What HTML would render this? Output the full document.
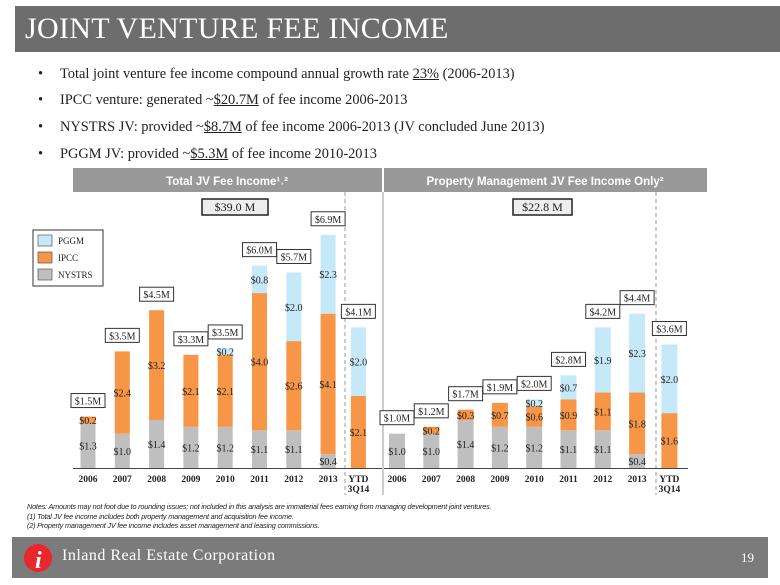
<!DOCTYPE html>
<html><head><meta charset="utf-8"><style>
body{margin:0;width:780px;height:585px;background:#fff;position:relative;overflow:hidden;font-family:"Liberation Serif",serif}
.abs{position:absolute}
#title{left:15px;top:6px;width:765px;height:46px;background:#6d6d6d;color:#fff;font-size:30px;line-height:46px;padding-left:10px;box-sizing:border-box;letter-spacing:0.3px}
.bul{left:38px;font-size:14.4px;color:#222;white-space:nowrap}
.bul span.d{display:inline-block;width:22px}
u{text-decoration:underline}
#notes{left:27px;top:502px;font-family:"Liberation Sans",sans-serif;font-style:italic;font-size:7.3px;line-height:9.5px;color:#222;letter-spacing:-0.2px}
#footer{left:12px;top:537px;width:756px;height:41px;background:#7b7b7b}
</style></head><body>
<div id="title" class="abs">JOINT VENTURE FEE INCOME</div>
<div class="abs bul" style="top:66px"><span class="d">•</span>Total joint venture fee income compound annual growth rate <u>23%</u> (2006-2013)</div>
<div class="abs bul" style="top:92px"><span class="d">•</span>IPCC venture: generated ~<u>$20.7M</u> of fee income 2006-2013</div>
<div class="abs bul" style="top:119px"><span class="d">•</span>NYSTRS JV: provided ~<u>$8.7M</u> of fee income 2006-2013 (JV concluded June 2013)</div>
<div class="abs bul" style="top:146px"><span class="d">•</span>PGGM JV: provided ~<u>$5.3M</u> of fee income 2010-2013</div>
<svg class="abs" style="left:0;top:0" width="780" height="585" id="chart"></svg>
<div id="notes" class="abs">Notes: Amounts may not foot due to rounding issues; not included in this analysis are immaterial fees earning from managing development joint ventures.<br>(1) Total JV fee income includes both property management and acquisition fee income.<br>(2) Property management JV fee income includes asset management and leasing commissions.</div>
<div id="footer" class="abs">
<svg class="abs" style="left:10px;top:4px" width="32" height="34"><circle cx="16" cy="17" r="14" fill="#e8262b"/><text x="13" y="27" font-size="24" font-style="italic" font-weight="bold" fill="#fff" font-family="Liberation Serif">i</text></svg>
<div class="abs" style="left:50px;top:10px;color:#fff;font-size:16px;letter-spacing:0.5px">Inland Real Estate Corporation</div>
<div class="abs" style="right:14px;top:13px;color:#fff;font-size:13px">19</div>
</div>
<script>
const categories=["2006","2007","2008","2009","2010","2011","2012","2013","YTD 3Q14"];
const leftNystrs=[1.3,1.0,1.4,1.2,1.2,1.1,1.1,0.4,0];
const leftIpcc=[0.2,2.4,3.2,2.1,2.1,4.0,2.6,4.1,2.1];
const leftPggm=[0,0,0,0,0.2,0.8,2.0,2.3,2.0];
const leftTotals=["$1.5M","$3.5M","$4.5M","$3.3M","$3.5M","$6.0M","$5.7M","$6.9M","$4.1M"];
const rightNystrs=[1.0,1.0,1.4,1.2,1.2,1.1,1.1,0.4,0];
const rightIpcc=[0,0.2,0.3,0.7,0.6,0.9,1.1,1.8,1.6];
const rightPggm=[0,0,0,0,0.2,0.7,1.9,2.3,2.0];
const rightTotals=["$1.0M","$1.2M","$1.7M","$1.9M","$2.0M","$2.8M","$4.2M","$4.4M","$3.6M"];
const svg=document.getElementById('chart');const NS='http://www.w3.org/2000/svg';
function mk(t,a,p){const e=document.createElementNS(NS,t);for(const k in a)e.setAttribute(k,a[k]);(p||svg).appendChild(e);return e;}
const base=468,scale=34.3;
const y=v=>base-v*scale;
const colors=["#bfbfbf","#f79646","#c6e9fa"];
function xL(i){return 88+i*34.3-(i==8?4:0)}
function xR(i){return 397+i*34.3-(i==8?2:0)}
function drawChart(name,xf,ser,totals,bw){
  for(let i=0;i<categories.length;i++){
    let acc=0;const cx=xf(i);
    ser.forEach((s,k)=>{
      const v=s[i];if(v<=0)return;
      const r=mk('rect',{x:cx-bw/2,y:y(acc+v),width:bw,height:v*scale,fill:colors[k]});
      
      
      const t=mk('text',{x:cx,y:y(acc+v/2)+4,'font-size':10,'text-anchor':'middle',fill:'#222','font-family':'Liberation Serif'});
      t.textContent='$'+v.toFixed(1);
      
      
      acc+=v;
    });
    const bt=y(acc)-9;
    const g=mk('g',{});
    
    
    mk('rect',{x:cx-17,y:bt-14,width:34,height:14,fill:'#fff',stroke:'#333','stroke-width':1},g);
    const t=mk('text',{x:cx,y:bt-3,'font-size':10,'text-anchor':'middle',fill:'#222','font-family':'Liberation Serif'},g);
    t.textContent=totals[i];
    const lab=categories[i].split(' ');
    lab.forEach((l,j)=>{const tx=mk('text',{x:cx,y:482+j*10,'font-size':9.5,'font-weight':'bold','text-anchor':'middle',fill:'#222','font-family':'Liberation Serif'});tx.textContent=l;
      
      });
  }
}
mk('rect',{x:73,y:168,width:309,height:24,fill:'#999'});
let h=mk('text',{x:227,y:185,'font-size':11.5,'font-weight':'bold','text-anchor':'middle',fill:'#fff','font-family':'Liberation Sans'});h.textContent='Total JV Fee Income¹˒²';

mk('rect',{x:384,y:168,width:323,height:24,fill:'#999'});
h=mk('text',{x:545,y:185,'font-size':11.5,'font-weight':'bold','text-anchor':'middle',fill:'#fff','font-family':'Liberation Sans'});h.textContent='Property Management JV Fee Income Only²';

mk('line',{x1:383,y1:192,x2:383,y2:495,stroke:'#999','stroke-width':1});
mk('line',{x1:345,y1:192,x2:345,y2:495,stroke:'#999','stroke-dasharray':'4,3'});
mk('line',{x1:656,y1:192,x2:656,y2:495,stroke:'#999','stroke-dasharray':'4,3'});
mk('line',{x1:73,y1:468.5,x2:382,y2:468.5,stroke:'#444'});
mk('line',{x1:384,y1:468.5,x2:688,y2:468.5,stroke:'#444'});
[[202,66,'$39.0 M','left-summary'],[513,59,'$22.8 M','right-summary']].forEach(b=>{
  const g=mk('g',{});
  mk('rect',{x:b[0],y:199,width:b[1],height:16,fill:'#eee',stroke:'#222','stroke-width':1.5},g);
  const t=mk('text',{x:b[0]+b[1]/2,y:211,'font-size':12,'text-anchor':'middle',fill:'#222','font-family':'Liberation Serif'},g);t.textContent=b[2];
});
const lg=mk('g',{});
mk('rect',{x:33,y:230,width:70,height:56,fill:'#fff',stroke:'#333'},lg);
[['PGGM',colors[2]],['IPCC',colors[1]],['NYSTRS',colors[0]]].forEach((e,i)=>{
  mk('rect',{x:38,y:235+i*17,width:14,height:11,fill:e[1],stroke:'#555','stroke-width':0.7},lg);
  const t=mk('text',{x:58,y:244+i*17,'font-size':9,fill:'#222','font-family':'Liberation Serif'},lg);t.textContent=e[0];
});
drawChart('left',xL,[leftNystrs,leftIpcc,leftPggm],leftTotals,15);
drawChart('right',xR,[rightNystrs,rightIpcc,rightPggm],rightTotals,16);
</script>
</body></html>
